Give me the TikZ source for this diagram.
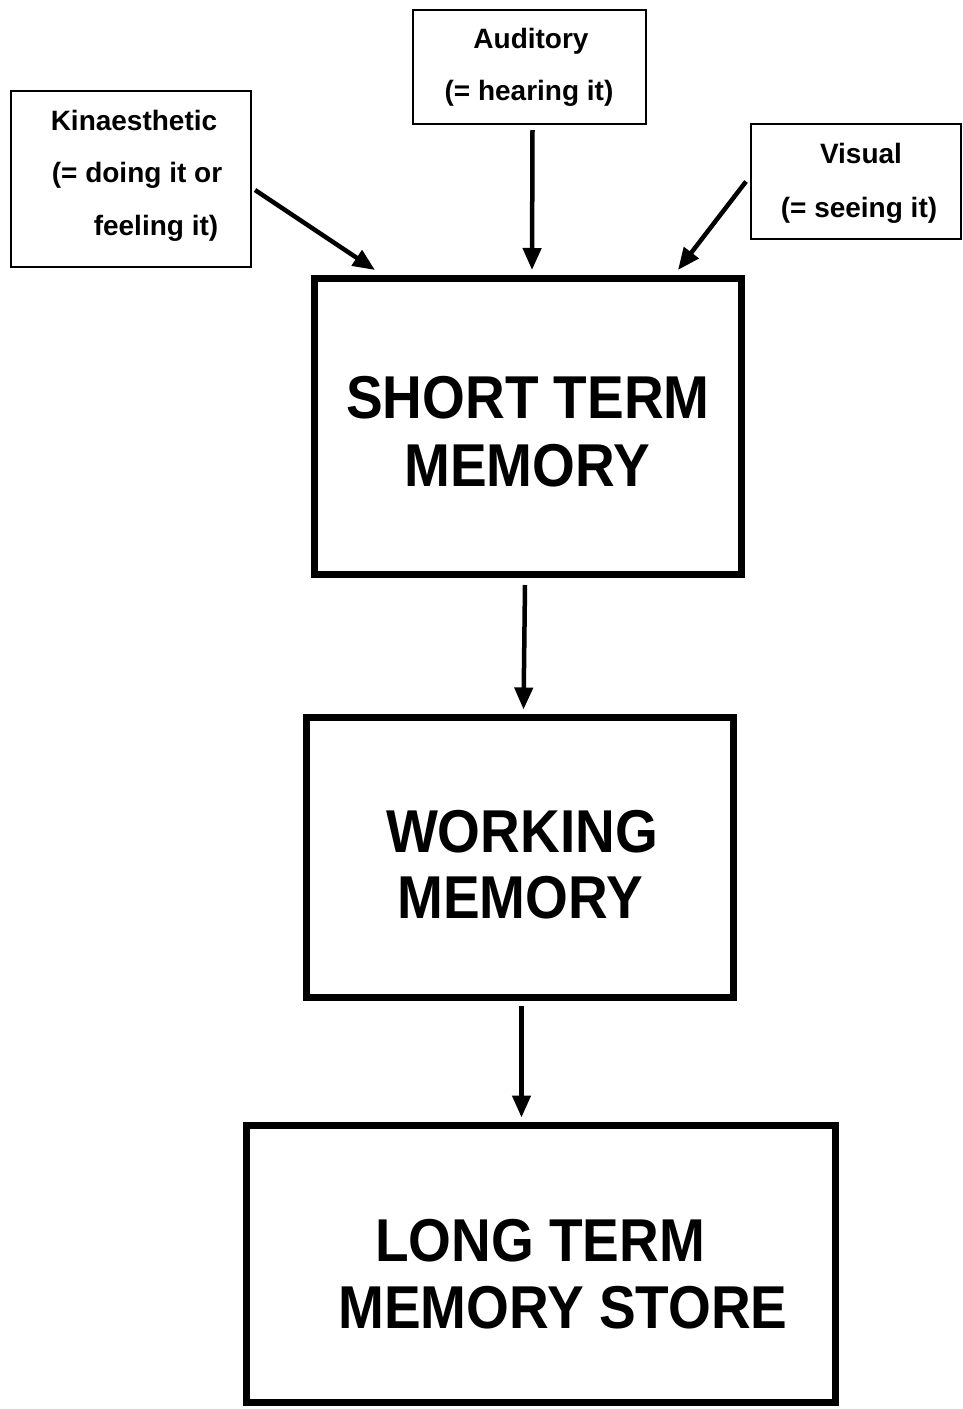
\documentclass[tikz,border=0pt]{standalone}
\usepackage{fontspec}
\setmainfont{Liberation Sans}
\usetikzlibrary{arrows.meta,calc}
\begin{document}
\begin{tikzpicture}[x=1pt,y=-1pt,
  sensebox/.style={draw,line width=2pt,inner sep=0,minimum width=#1},
  memorybox/.style={draw,line width=7pt,inner sep=0,minimum width=#1},
  smalltext/.style={font=\fontsize{28}{28}\selectfont\bfseries,anchor=base,inner sep=0},
  bigtext/.style={font=\fontsize{55}{55}\selectfont\bfseries,anchor=base,inner sep=0},
  flow/.style={line width=4.5pt,-{Triangle[length=22pt,width=18pt]}}]
\useasboundingbox[fill=white] (0,0) rectangle (962,1409);

% input channels
\node[sensebox=240, minimum height=176] (kin) at (131,179) {};
\node[sensebox=233, minimum height=114] (aud) at (529.5,67) {};
\node[sensebox=210, minimum height=115] (vis) at (856,181.5) {};

\node[smalltext] (kin1) at (134,130) {Kinaesthetic};
\node[smalltext] (kin2) at (137,182) {(= doing it or};
\node[smalltext] (kin3) at (156,235) {feeling it)};
\node[smalltext] (aud1) at (531,48) {Auditory};
\node[smalltext] (aud2) at (529,100) {(= hearing it)};
\node[smalltext] (vis1) at (861,163) {Visual};
\node[smalltext] (vis2) at (859,217) {(= seeing it)};

% memory stages
\node[memorybox=427, minimum height=296] (stm) at (528,426.5) {};
\node[memorybox=427, minimum height=280] (wm) at (519.5,857) {};
\node[memorybox=589, minimum height=277] (ltm) at (540.5,1263.5) {};

\node[bigtext] (stm1) at (528,418) {\scalebox{1}[1.1]{SHORT TERM}};
\node[bigtext] (stm2) at (527,486) {\scalebox{1}[1.1]{MEMORY}};
\node[bigtext] (wm1) at (522,852) {\scalebox{1}[1.1]{WORKING}};
\node[bigtext] (wm2) at (520,918) {\scalebox{1}[1.1]{MEMORY}};
\node[bigtext] (ltm1) at (540,1261) {\scalebox{1}[1.1]{LONG TERM}};
\node[bigtext] (ltm2) at (563,1328) {\scalebox{1}[1.1]{MEMORY STORE}};

% connectors
\draw[flow] ($(kin.north east)+(3,100)$) -- ($(stm.north west)+(64,-5)$);
\draw[flow] ($(aud.south)+(3,5)$) -- ($(stm.north)+(4,-5)$);
\draw[flow] ($(vis.west)+(-4,0)$) -- ($(stm.north east)+(-67,-5)$);
\draw[flow] ($(stm.south)+(-3,7)$) -- ($(wm.north)+(4,-4)$);
\draw[flow] ($(wm.south)+(2,5)$) -- ($(ltm.north)+(-19,-4)$);
\end{tikzpicture}
\end{document}
